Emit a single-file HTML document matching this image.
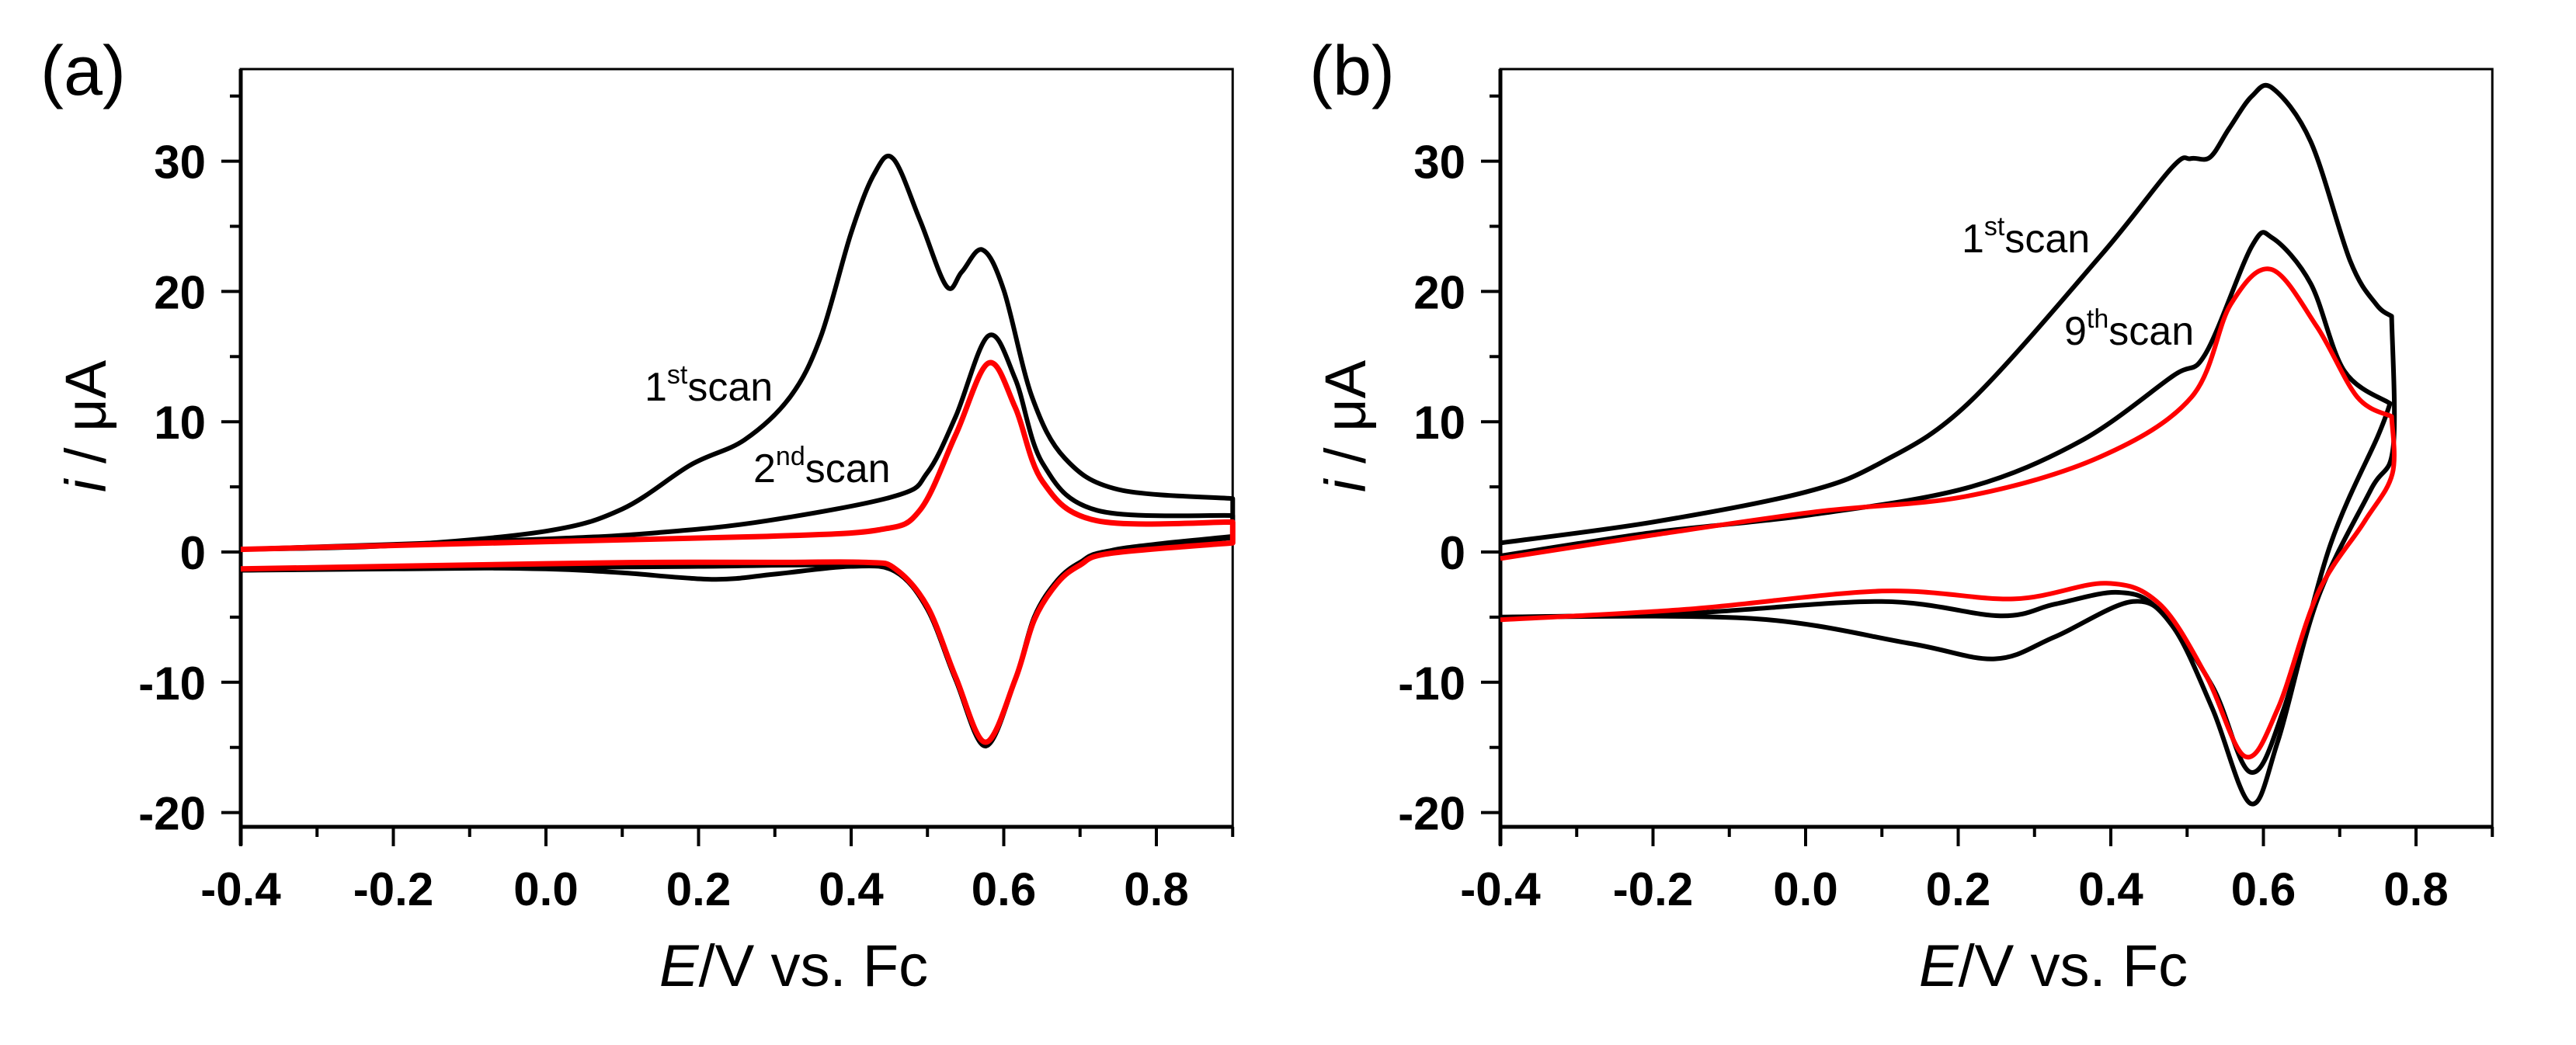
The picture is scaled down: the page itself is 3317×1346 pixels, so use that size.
<!DOCTYPE html>
<html><head><meta charset="utf-8"><style>
html,body{margin:0;padding:0;background:#fff;}
svg{display:block;}
text{font-family:"Liberation Sans",Arial,sans-serif;fill:#000;}
.tick{font-weight:bold;font-size:60px;}
</style></head><body>
<svg id="chart" width="3317" height="1346" viewBox="0 0 3317 1346" xmlns="http://www.w3.org/2000/svg"></svg>
<script>
// ---- Panel (a) data ----
const aScan1AnX = [-0.4,-0.2,0.0,0.1,0.19,0.26,0.32,0.36,0.40,0.43,0.455,0.49,0.525,0.545,0.572,0.60,0.637,0.68,0.75,0.9];
const aScan1AnY = [0.2,0.5,1.6,3.3,6.7,8.6,11.9,16.5,24.5,29.0,30.2,25.5,20.4,21.5,23.2,20.1,11.9,7.2,4.8,4.1];
const aScan1CaX = [0.9,0.8,0.74,0.70,0.67,0.64,0.615,0.576,0.537,0.50,0.458,0.40,0.3,0.22,0.1,0.0,-0.2,-0.4];
const aScan1CaY = [1.2,0.6,0.1,-0.8,-2.2,-5.0,-9.8,-14.9,-9.8,-4.4,-1.5,-1.1,-1.7,-2.1,-1.6,-1.3,-1.2,-1.4];
const aScan2AnX = [-0.4,0.0,0.15,0.29,0.458,0.50,0.537,0.58,0.615,0.651,0.722,0.9];
const aScan2AnY = [0.2,1.0,1.5,2.4,4.3,6.1,10.4,16.6,13.3,6.8,3.2,2.8];
const aScan2CaX = [0.9,0.74,0.70,0.67,0.64,0.615,0.576,0.537,0.50,0.458,0.40,0.2,0.0,-0.4];
const aScan2CaY = [1.1,0.1,-0.8,-2.2,-5.0,-9.8,-14.8,-9.8,-4.4,-1.5,-1.0,-1.1,-1.2,-1.4];
const aRedAnX = [-0.4,0.0,0.29,0.436,0.49,0.537,0.58,0.615,0.651,0.722,0.9];
const aRedAnY = [0.2,0.8,1.2,1.7,3.2,9.0,14.5,11.1,5.4,2.4,2.3];
const aRedCaX = [0.9,0.74,0.70,0.67,0.64,0.615,0.576,0.537,0.50,0.458,0.42,0.3,0.15,0.0,-0.4];
const aRedCaY = [0.7,-0.1,-1.0,-2.4,-5.2,-9.8,-14.6,-9.6,-4.2,-1.3,-0.8,-0.8,-0.8,-0.9,-1.3];
// ---- Panel (b) data ----
const bScan1AnX = [-0.4,-0.2,0.0,0.1,0.213,0.386,0.48,0.505,0.53,0.555,0.585,0.612,0.662,0.714,0.748,0.768];
const bScan1AnY = [0.7,2.3,4.6,6.9,11.4,22.7,29.5,30.2,30.3,32.5,35.0,35.6,31.5,22.3,19.0,18.1];
const bScan1CaX = [0.768,0.77,0.74,0.671,0.619,0.583,0.533,0.481,0.429,0.327,0.248,0.135,-0.071,-0.4];
const bScan1CaY = [18.1,8.0,4.7,-3.6,-14.5,-19.3,-12,-5.7,-3.8,-6.5,-8.2,-7.0,-5.1,-5.0];
const bScan9AnX = [-0.4,-0.2,0.0,0.21,0.36,0.481,0.524,0.585,0.612,0.662,0.706,0.766];
const bScan9AnY = [-0.3,1.5,2.8,4.9,8.5,13.5,15.2,23.5,24.1,20.6,13.9,11.4];
const bScan9CaX = [0.766,0.75,0.688,0.627,0.583,0.533,0.464,0.41,0.327,0.255,0.10,-0.156,-0.4];
const bScan9CaY = [11.4,8.9,0.6,-12,-16.9,-10.3,-4.5,-3.1,-4.0,-4.9,-3.8,-4.7,-5.0];
const bRedAnX = [-0.4,-0.2,0.015,0.213,0.386,0.506,0.557,0.61,0.67,0.723,0.768];
const bRedAnY = [-0.5,1.3,3.1,4.3,7.3,11.9,19,21.7,17.3,11.9,10.4];
const bRedCaX = [0.768,0.769,0.732,0.671,0.619,0.576,0.525,0.464,0.394,0.273,0.10,-0.156,-0.4];
const bRedCaY = [10.4,6.0,2.3,-3.2,-12,-15.7,-9.5,-4.0,-2.4,-3.6,-3.0,-4.4,-5.2];
// ---- Ticks ----
const xTickVals = [-0.4,-0.2,0.0,0.2,0.4,0.6,0.8];
const xTickLabels = ["-0.4","-0.2","0.0","0.2","0.4","0.6","0.8"];
const xMinorVals = [-0.3,-0.1,0.1,0.3,0.5,0.7,0.9];
const yTickVals = [-20,-10,0,10,20,30];
const yTickLabels = ["-20","-10","0","10","20","30"];
const yMinorVals = [-15,-5,5,15,25,35];

const NS = "http://www.w3.org/2000/svg";
const svg = document.getElementById("chart");
function mk(tag, attrs, parent){
  const e = document.createElementNS(NS, tag);
  for (const k in attrs) e.setAttribute(k, attrs[k]);
  (parent||svg).appendChild(e);
  return e;
}
const Y0 = 711, YS = 16.78, XS = 982.5, TOP = 89, BOT = 1065;
function makeAxes(x0){
  return {
    x: v => x0 + (v + 0.4) * XS,
    y: v => Y0 - v * YS,
    left: x0, right: x0 + 1.3 * XS
  };
}
function smoothPath(xs, ys, ax){
  const p = xs.map((v,i)=>[ax.x(v), ax.y(ys[i])]);
  let d = "M" + p[0][0].toFixed(1) + "," + p[0][1].toFixed(1);
  for (let i=0;i<p.length-1;i++){
    const p0 = p[Math.max(0,i-1)], p1 = p[i], p2 = p[i+1], p3 = p[Math.min(p.length-1,i+2)];
    const c1 = [p1[0]+(p2[0]-p0[0])/6, p1[1]+(p2[1]-p0[1])/6];
    const c2 = [p2[0]-(p3[0]-p1[0])/6, p2[1]-(p3[1]-p1[1])/6];
    d += " C"+c1[0].toFixed(1)+","+c1[1].toFixed(1)+" "+c2[0].toFixed(1)+","+c2[1].toFixed(1)+" "+p2[0].toFixed(1)+","+p2[1].toFixed(1);
  }
  return d;
}
function drawPanel(id, x0, series, labelText, labelX){
  const ax = makeAxes(x0);
  const g = mk("g", {});
  
  
  const fr = mk("rect", {x: ax.left, y: TOP, width: ax.right-ax.left, height: BOT-TOP, fill:"none", stroke:"#000", "stroke-width":3}, g);
  
  
  const la = mk("line", {x1: ax.left, y1: TOP, x2: ax.left, y2: BOT+24, stroke:"#000", "stroke-width":5}, g);
  
  
  const ba = mk("line", {x1: ax.left-2, y1: BOT, x2: ax.right, y2: BOT, stroke:"#000", "stroke-width":5}, g);
  
  
  yTickVals.forEach((v,i)=>{
    const t = mk("line", {x1: ax.left-25, y1: ax.y(v), x2: ax.left, y2: ax.y(v), stroke:"#000","stroke-width":4}, g);
    
    
    const tx = mk("text", {x: ax.left-45, y: ax.y(v)+22, "text-anchor":"end", class:"tick"}, g);
    tx.textContent = yTickLabels[i];
    
    
  });
  yMinorVals.forEach(v=>{
    const t = mk("line", {x1: ax.left-14, y1: ax.y(v), x2: ax.left, y2: ax.y(v), stroke:"#000","stroke-width":4}, g);
    
    
  });
  xTickVals.forEach((v,i)=>{
    const t = mk("line", {x1: ax.x(v), y1: BOT, x2: ax.x(v), y2: BOT+25, stroke:"#000","stroke-width":4}, g);
    
    
    const tx = mk("text", {x: ax.x(v), y: 1166, "text-anchor":"middle", class:"tick"}, g);
    tx.textContent = xTickLabels[i];
    
    
  });
  xMinorVals.forEach(v=>{
    const t = mk("line", {x1: ax.x(v), y1: BOT, x2: ax.x(v), y2: BOT+13, stroke:"#000","stroke-width":4}, g);
    
    
  });
  series.forEach(s=>{
    const d = smoothPath(s.ax, s.ay, ax) + " " + smoothPath(s.cx, s.cy, ax).replace(/^M/, "L");
    const p = mk("path", {d: d, fill:"none", stroke: s.color, "stroke-width": s.w, "stroke-linejoin":"round"}, g);
    
    
  });
  const xt = mk("text", {x: x0 + 712, y: 1270, "text-anchor":"middle", "font-size":76}, g);
  xt.innerHTML = '<tspan font-style="italic">E</tspan>/V vs. Fc';
  
  
  const yt = mk("text", {x: 0, y: 0, "text-anchor":"middle", "font-size":74, transform: "translate(" + (x0-174) + ",549) rotate(-90)"}, g);
  yt.innerHTML = '<tspan font-style="italic">i</tspan> / μA';
  
  
  const pl = mk("text", {x: labelX, y: 122, "font-size":90}, g);
  pl.textContent = labelText;
  
  
  return ax;
}
drawPanel("a", 310, [
  {name:"scan-1-curve", color:"#000", w:6, ax:aScan1AnX, ay:aScan1AnY, cx:aScan1CaX, cy:aScan1CaY},
  {name:"scan-2-curve", color:"#000", w:6, ax:aScan2AnX, ay:aScan2AnY, cx:aScan2CaX, cy:aScan2CaY},
  {name:"scan-red-curve", color:"#ff0000", w:7, ax:aRedAnX, ay:aRedAnY, cx:aRedCaX, cy:aRedCaY}
], "(a)", 52);
drawPanel("b", 1932, [
  {name:"scan-1-curve", color:"#000", w:6, ax:bScan1AnX, ay:bScan1AnY, cx:bScan1CaX, cy:bScan1CaY},
  {name:"scan-9-curve", color:"#000", w:6, ax:bScan9AnX, ay:bScan9AnY, cx:bScan9CaX, cy:bScan9CaY},
  {name:"scan-red-curve", color:"#ff0000", w:6, ax:bRedAnX, ay:bRedAnY, cx:bRedCaX, cy:bRedCaY}
], "(b)", 1686);
function annot(x, y, num, sup, name){
  const t = mk("text", {x:x, y:y, "font-size":52});
  t.innerHTML = num + '<tspan dy="-22" font-size="34">' + sup + '</tspan><tspan dy="22">scan</tspan>';
  
  
}
annot(830, 516, "1", "st", "annotation-1st-scan-a");
annot(970, 621, "2", "nd", "annotation-2nd-scan-a");
annot(2526, 325, "1", "st", "annotation-1st-scan-b");
annot(2658, 444, "9", "th", "annotation-9th-scan-b");
</script>
</body></html>
